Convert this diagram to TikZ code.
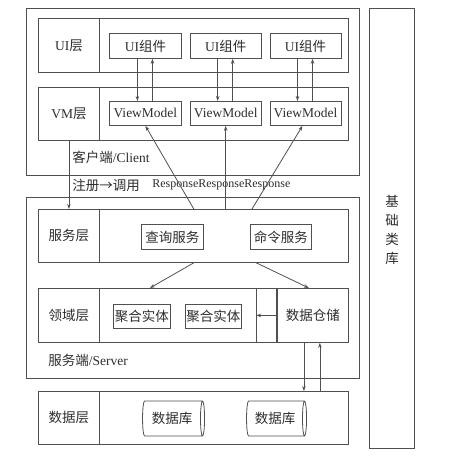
\documentclass[tikz,border=0pt]{standalone}
\usepackage{fontspec}
\setmainfont{Liberation Serif}
\newfontfamily\cjk{Noto Sans CJK SC}
\usetikzlibrary{shapes.geometric,arrows.meta,positioning,calc}
\definecolor{archline}{RGB}{80,80,80}
\definecolor{archtext}{RGB}{45,45,45}

\begin{document}
\begin{tikzpicture}[
    x=1pt, y=-1pt,
    font=\fontsize{13.5}{16}\selectfont, color=archline, text=archtext,
    line width=0.8pt,
    >={Stealth[length=5pt,width=3.5pt]},
    row/.style={rectangle, draw, minimum width=310pt, anchor=north west, inner sep=0pt},
    lbl/.style={rectangle, draw, minimum width=61pt, anchor=north west, inner sep=0pt},
    comp/.style={rectangle, draw, minimum height=25pt, inner xsep=1pt, inner ysep=0pt},
    db/.style={cylinder, draw, aspect=0.28, minimum width=35pt, inner sep=1pt}
]
\useasboundingbox (0,0) rectangle (459,459);

% Outer frames
\node[rectangle, draw, minimum width=333pt, minimum height=167pt, anchor=north west] (client) at (26,8) {};
\node[rectangle, draw, minimum width=333pt, minimum height=181pt, anchor=north west] (server) at (26,197) {};
\node[rectangle, draw, minimum width=45pt, minimum height=440pt, anchor=north west] (baselib) at (369,8) {};
\node[align=center, font=\cjk\fontsize{13.5}{19}\selectfont] (baselbl) at (392,230) {基\\础\\类\\库};

% Layer rows
\node[row, minimum height=54pt] (uirow) at (38,18) {};
\node[lbl, minimum height=54pt] (uilbl) at (38,18) {UI{\cjk 层}};
\node[row, minimum height=53pt] (vmrow) at (38,87) {};
\node[lbl, minimum height=53pt] (vmlbl) at (38,87) {VM{\cjk 层}};
\node[row, minimum height=53pt] (svcrow) at (38,209) {};
\node[lbl, minimum height=53pt, font=\cjk\fontsize{13.5}{16}\selectfont] (svclbl) at (38,209) {服务层};
\node[row, minimum height=54pt] (domrow) at (38,288) {};
\node[lbl, minimum height=54pt, font=\cjk\fontsize{13.5}{16}\selectfont] (domlbl) at (38,288) {领域层};
\node[row, minimum height=53pt] (datarow) at (38,391) {};
\node[lbl, minimum height=53pt, font=\cjk\fontsize{13.5}{16}\selectfont] (datalbl) at (38,391) {数据层};

% Client components
\node[comp, minimum width=72pt, anchor=north west] (ui1) at (109,33) {UI{\cjk 组件}};
\node[comp, minimum width=71pt, right=8pt of ui1] (ui2) {UI{\cjk 组件}};
\node[comp, minimum width=71pt, right=8pt of ui2] (ui3) {UI{\cjk 组件}};
\node[comp, minimum width=72pt, minimum height=24pt, anchor=north west] (vm1) at (109,101) {ViewModel};
\node[comp, minimum width=71pt, minimum height=24pt, right=8pt of vm1] (vm2) {ViewModel};
\node[comp, minimum width=71pt, minimum height=24pt, right=8pt of vm2] (vm3) {ViewModel};

% Server components
\node[comp, minimum width=62pt, anchor=north west, font=\cjk\fontsize{13.5}{16}\selectfont] (query) at (141,224) {查询服务};
\node[comp, minimum width=61pt, anchor=north west, font=\cjk\fontsize{13.5}{16}\selectfont] (command) at (250,224) {命令服务};
\node[comp, minimum width=57pt, minimum height=24pt, anchor=north west, font=\cjk\fontsize{13.5}{16}\selectfont] (agg1) at (113,304) {聚合实体};
\node[comp, minimum width=56pt, minimum height=24pt, anchor=north west, font=\cjk\fontsize{13.5}{16}\selectfont] (agg2) at (185,304) {聚合实体};
\node[rectangle, draw, minimum width=71pt, minimum height=54pt, anchor=north east, font=\cjk\fontsize{13.5}{16}\selectfont] (repo) at (domrow.north east) {数据仓储};
\node[rectangle, draw, minimum width=20pt, minimum height=54pt, left=0pt of repo] (gap) {};

% Databases
\node[db, minimum height=62pt, font=\cjk\fontsize{13.5}{16}\selectfont] (db1) at (172,418.5) {数据库};
\node[db, minimum height=60pt, font=\cjk\fontsize{13.5}{16}\selectfont] (db2) at (275,418.5) {数据库};

% Labels
\node[anchor=west, inner sep=0pt] (clientlbl) at (72,157) {{\cjk 客户端}/Client};
\node[anchor=west, inner sep=0pt, font=\cjk\fontsize{13.5}{16}\selectfont] (reglbl) at (72,185) {注册→调用};
\node[anchor=west, inner sep=0pt, font=\fontsize{12}{14}\selectfont] (resplbl) at (152,185) {ResponseResponseResponse};
\node[anchor=west, inner sep=0pt] (serverlbl) at (48,360) {{\cjk 服务端}/Server};

% Arrows
\foreach \i in {1,2,3} {
  \draw[->] ([xshift=-8pt]ui\i.south) -- ([xshift=-8pt]vm\i.north);
  \draw[->] ([xshift=7pt]vm\i.north) -- ([xshift=7pt]ui\i.south);
}
\draw[->] (vmlbl.south) -- (svclbl.north);
\draw[->] ($(query.east |- svcrow.north)+(-10,0)$) -- (vm1.south);
\draw[->] (vm2.south |- svcrow.north) -- (vm2.south);
\draw[->] ($(command.west |- svcrow.north)+(2,0)$) -- ($(vm3.south)+(-3,0)$);
\draw[->] ($(query.east |- svcrow.south)+(-10,0)$) -- ($(agg1.north |- domrow.north)+(8,0)$);
\draw[->] (gap.west |- svcrow.south) -- ($(repo.north)+(-4,0)$);
\draw[->] (repo.west) -- (gap.west);
\draw[->] ($(repo.south)+(-9,0)$) -- ($(repo.south |- datarow.north)+(-9,0)$);
\draw[->] ($(repo.south |- datarow.north)+(7,0)$) -- ($(repo.south)+(7,0)$);

\end{tikzpicture}
\end{document}
